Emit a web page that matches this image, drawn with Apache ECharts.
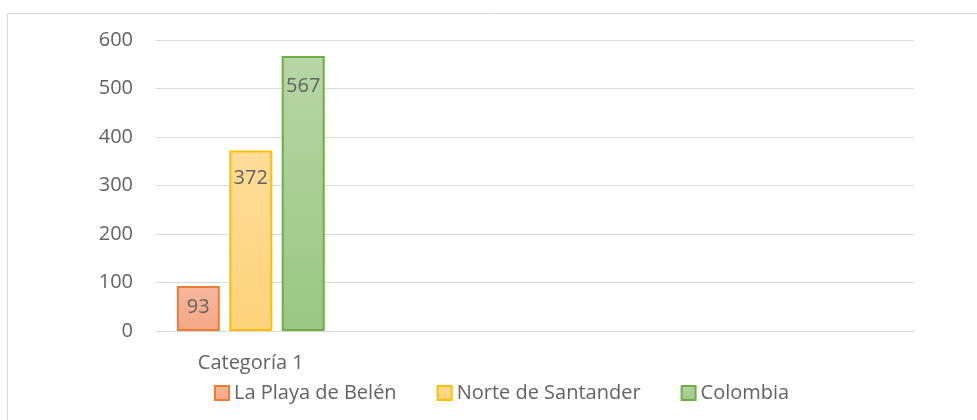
<!DOCTYPE html>
<html>
<head>
<meta charset="utf-8">
<script src="https://cdn.jsdelivr.net/npm/echarts@6/dist/echarts.min.js"></script>
<style>
  html, body { margin: 0; padding: 0; background: #fff; }
  #chart { width: 977px; height: 420px; }
</style>
</head>
<body>
<div id="chart"></div>
<script>
// datos
const categorias = ['Categoría 1', '', '', '']
const playaBelen = [93, null, null, null]
const norteSantander = [372, null, null, null]
const colombia = [567, null, null, null]
const ticksY = [0, 100, 200, 300, 400, 500, 600]

const fuente = '"Open Sans", "Noto Sans", sans-serif'
const gris = '#626262'

const degradado = (arriba, abajo) => new echarts.graphic.LinearGradient(0, 0, 0, 1, [
  { offset: 0, color: arriba },
  { offset: 1, color: abajo }
])

const serie = (nombre, datos, arriba, abajo, borde, distancia) => ({
  name: nombre,
  type: 'bar',
  data: datos,
  barWidth: 43,
  barGap: '22%',
  itemStyle: {
    color: degradado(arriba, abajo),
    borderColor: borde,
    borderWidth: 2
  },
  label: {
    show: true,
    position: 'insideTop',
    distance: distancia,
    color: gris,
    fontFamily: fuente,
    fontSize: 20
  }
})

const myChart = echarts.init(document.getElementById('chart'))
myChart.setOption({
  animation: false,
  textStyle: { fontFamily: fuente },
  graphic: [
    {
      type: 'rect',
      shape: { x: 7.5, y: 13.5, width: 1000, height: 500 },
      style: { fill: 'none', stroke: '#d9d9d9', lineWidth: 1 },
      silent: true
    }
  ],
  grid: { left: 156, right: 63, top: 40, bottom: 89 },
  legend: {
    left: 209,
    top: 378,
    icon: 'rect',
    itemWidth: 14,
    itemHeight: 14,
    itemGap: 40,
    textStyle: { color: gris, fontFamily: fuente, fontSize: 20 }
  },
  xAxis: {
    type: 'category',
    data: categorias,
    axisLine: { lineStyle: { color: '#d9d9d9' } },
    axisTick: { show: false },
    axisLabel: { color: gris, fontFamily: fuente, fontSize: 20, margin: 22 }
  },
  yAxis: {
    type: 'value',
    min: ticksY[0],
    max: ticksY[ticksY.length - 1],
    interval: 100,
    axisLine: { show: false },
    axisTick: { show: false },
    splitLine: { lineStyle: { color: '#d9d9d9' } },
    axisLabel: { color: gris, fontFamily: fuente, fontSize: 20, margin: 23 }
  },
  series: [
    serie('La Playa de Belén', playaBelen, '#f7b89d', '#f4a685', '#ed7d31', 11),
    serie('Norte de Santander', norteSantander, '#ffdc98', '#fed27a', '#ffc000', 18),
    serie('Colombia', colombia, '#b6d6a5', '#9bc782', '#70ad47', 20)
  ]
})
</script>
</body>
</html>
